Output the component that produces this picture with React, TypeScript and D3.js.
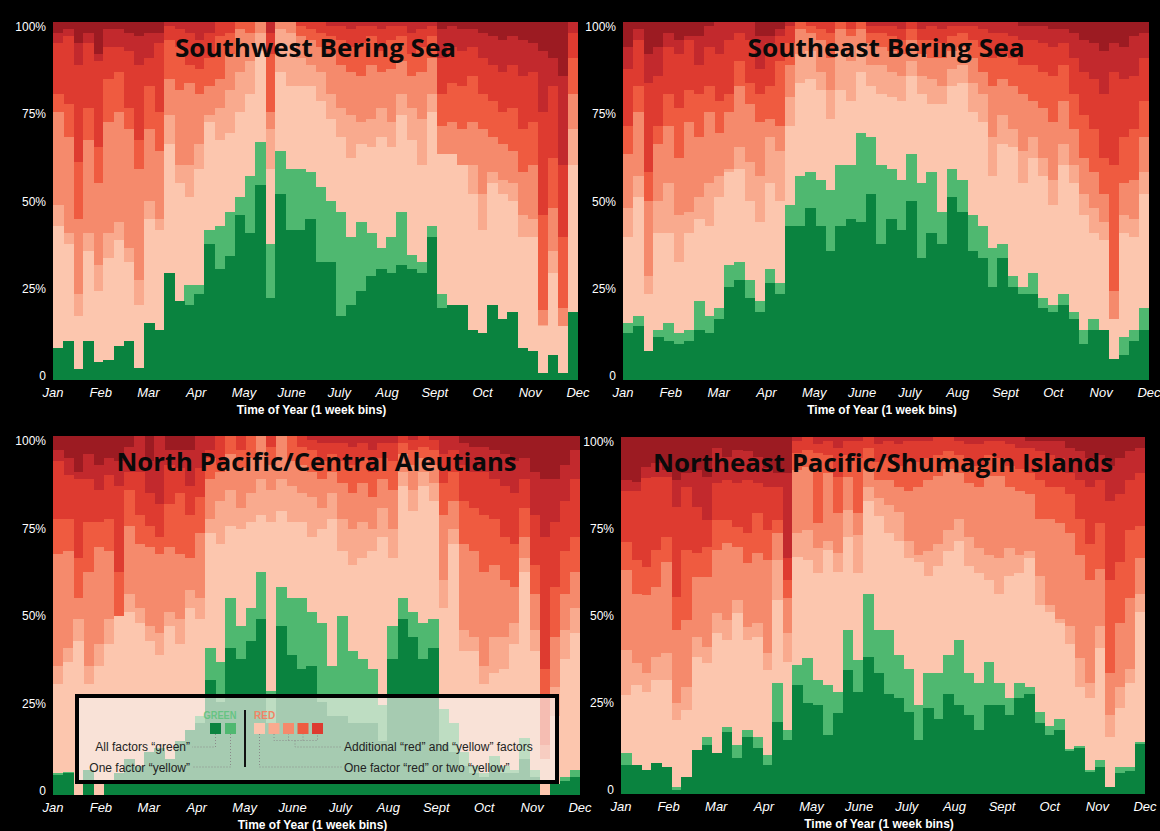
import React from 'react';
import * as d3 from 'd3';

const MONTHS = ['Jan', 'Feb', 'Mar', 'Apr', 'May', 'June', 'July', 'Aug', 'Sept', 'Oct', 'Nov', 'Dec'];
const Y_TICKS = [0, 25, 50, 75, 100];
const WEEKS = d3.range(52);

// cumulative % tops of each band, per week (green, yellow, then red bands 1..6; last band fills to 100)
// Southwest Bering Sea
const swGreen = [9, 11, 3, 11, 5, 5.6, 9.5, 11, 3.3, 16, 14, 30, 22, 21, 24, 38, 31, 34.5, 46, 41, 54.5, 23, 52, 42, 42, 45, 33, 33, 18, 21, 25, 29, 31, 30, 32, 31, 30, 40, 20, 21, 21, 14, 13, 21, 17, 19, 9, 8, 2, 7, 2, 19];
const swYellow = [9, 11, 3, 11, 5, 5.6, 9.5, 11, 3.3, 16, 14, 30, 22, 26.5, 26.5, 42, 43, 47, 51, 57, 66.6, 38, 64, 59, 59, 58, 54, 50, 47, 40, 44, 41, 37, 40, 47, 35, 33, 43, 24, 21, 21, 14, 13, 21, 17, 19, 9, 8, 2, 7, 2, 19];
const swRed1 = [43, 38, 18, 36, 25, 34, 39, 33, 21, 45, 42, 66, 55, 51, 59, 72, 67, 69, 75, 80, 92, 59, 86, 82, 82, 82, 78, 73, 68, 62, 66, 65, 68, 65, 74, 67, 60, 75, 63, 63, 60, 52, 42, 55, 52, 50, 40, 40, 15, 30, 15, 60];
const swRed2 = [49, 41, 24, 41, 32, 41, 44, 37, 28, 50, 45, 74, 60, 60, 66, 74, 76, 81, 86, 89, 97, 70, 98, 97, 90, 88, 86, 80, 76, 74, 72, 73, 76, 72, 80, 76, 73, 80, 63, 63, 60, 60, 52, 58, 56, 55, 46, 45, 15.4, 36, 15, 70];
const swRed3 = [75, 68, 45, 67, 55, 72, 75, 70, 59, 70, 64, 84, 81, 83, 80, 82, 84, 91, 98, 97, 100, 75, 100, 100, 96, 95, 93, 91, 88, 86, 85, 88, 86, 87, 89, 85, 86, 90, 71, 72, 70, 72, 70, 68, 66, 64, 58, 60, 19.5, 48, 20, 80];
const swRed4 = [80, 77, 61, 76, 65, 84, 86, 76, 67, 82, 75, 95, 93, 88, 87, 90, 96, 97, 100, 100, 100, 91, 100, 100, 99, 98, 97, 96, 95, 93, 94, 96, 92, 95, 96, 91, 93, 96, 80, 83, 82, 85, 80, 78, 75, 76, 70, 72, 46, 62, 40, 90];
const swRed5 = [94, 96, 88, 94, 89, 93, 93, 92, 88, 90, 94, 99, 98, 97, 95, 97, 100, 100, 100, 100, 100, 97, 100, 100, 100, 100, 100, 99, 99, 98, 99, 99, 98, 99, 99, 97, 98, 99, 90, 93, 92, 93, 90, 88, 86, 88, 85, 86, 75, 82, 60, 97];
const swRed6 = [97, 98, 94, 97, 91, 98, 98, 97, 96, 97, 97, 100, 100, 100, 100, 100, 100, 100, 100, 100, 100, 100, 100, 100, 100, 100, 100, 100, 100, 100, 100, 100, 100, 100, 100, 100, 100, 100, 98, 99, 98, 98, 97, 96, 95, 96, 95, 94, 92, 90, 85, 100];

// Southeast Bering Sea
const seGreen = [13, 15, 8, 12, 11, 10, 11, 14, 13, 17, 26, 28, 23, 19, 27, 24, 43, 43, 48, 43, 36, 43, 45, 44, 52, 38, 45, 42, 50, 34, 41, 38, 51, 47, 36, 34, 26, 34, 26, 24, 24, 20, 19, 21, 17, 10, 14, 14, 6, 7, 11, 14];
const seYellow = [16, 18, 8, 14, 16, 13, 14, 22, 18, 20, 32, 33, 28, 22, 31, 27, 49, 57, 58, 56, 53, 60, 60, 69, 68, 60, 59, 56, 63, 55, 58, 47, 59, 56, 46, 43, 37, 38, 29, 26, 30, 23, 21, 24, 19, 14, 17, 14, 6, 12, 14, 20];
const seRed1 = [40, 51, 24, 41, 41, 33, 41, 45, 43, 51, 58, 59, 50, 44, 55, 50, 71, 83, 84, 81, 73, 81, 78, 86, 82, 80, 79, 78, 85, 80, 77, 77, 82, 83, 75, 72, 57, 66, 65, 55, 62, 57, 49, 60, 55, 46, 41, 39, 17, 41, 40, 52];
const seRed2 = [48, 57, 29, 50, 55, 46, 47, 51, 55, 57, 59, 65, 61, 57, 68, 64, 79, 91, 92, 86, 81, 92, 89, 93, 88, 88, 86, 85, 89, 85, 84, 82, 87, 88, 83, 80, 68, 74, 70, 64, 68, 62, 56, 66, 60, 52, 48, 44, 17, 46, 45, 58];
const seRed3 = [63, 75, 50, 66, 71, 62, 72, 68, 75, 69, 75, 82, 77, 72, 73, 71, 88, 98, 97, 95, 90, 98, 96, 98, 94, 93, 92, 91, 95, 91, 90, 90, 92, 93, 90, 86, 82, 84, 82, 80, 78, 76, 72, 78, 70, 62, 58, 52, 25, 55, 56, 68];
const seRed4 = [71, 82, 58, 71, 80, 76, 81, 80, 82, 78, 80, 89, 83, 80, 82, 89, 94, 100, 99, 98, 97, 100, 98, 100, 97, 97, 96, 95, 98, 95, 95, 94, 96, 97, 95, 93, 90, 91, 90, 88, 88, 86, 85, 88, 80, 74, 70, 62, 60, 68, 70, 78];
const seRed5 = [87, 95, 83, 85, 93, 91, 95, 88, 93, 91, 95, 97, 95, 87, 94, 96, 99, 100, 100, 100, 100, 100, 100, 100, 99, 99, 99, 98, 100, 98, 99, 98, 99, 99, 99, 98, 97, 97, 96, 95, 95, 94, 93, 94, 90, 86, 84, 80, 86, 84, 85, 90];
const seRed6 = [93, 98, 91, 93, 97, 95, 96, 96, 99, 100, 100, 100, 100, 96, 96, 98, 100, 100, 100, 100, 100, 100, 100, 100, 100, 100, 100, 100, 100, 100, 100, 100, 100, 100, 100, 100, 100, 100, 100, 99, 99, 99, 98, 98, 97, 95, 94, 92, 94, 93, 96, 97];

// North Pacific/Central Aleutians
const npGreen = [5.6, 6, 0, 7, 0, 4, 6, 10, 8, 12, 13, 10, 15, 18, 20, 32, 26, 41, 38, 43, 49, 20, 47, 39, 35, 36, 26, 22, 22, 20, 20, 20, 15, 38, 49, 44, 38, 41, 14, 12, 8, 6, 5, 8, 6, 6, 10, 5, 0, 3, 4, 5];
const npYellow = [6, 6.5, 0, 7, 0, 4, 6, 10, 8, 12, 13, 10, 15, 18, 22, 41, 37, 55, 47, 52, 62, 29, 58, 55, 55, 51, 48, 36, 50, 40, 38, 35, 25, 47, 55, 51, 48, 49, 24, 20, 12, 8, 6, 11, 8, 7, 16, 7, 0, 3, 5, 7];
const npRed1 = [31, 37, 43, 31, 36, 42, 50, 51, 48, 43, 39, 47, 42, 52, 49, 73, 70, 75, 74, 76, 78, 76, 79, 76, 76, 72, 74, 77, 68, 64, 66, 68, 72, 66, 86, 79, 86, 82, 52, 70, 40, 40, 31, 34, 35, 42, 62, 40, 10, 22, 38, 45];
const npRed2 = [36, 41, 49, 36, 42, 49, 50, 56, 52, 47, 45, 51, 49, 57, 55, 77, 82, 85, 80, 84, 88, 85, 88, 86, 84, 83, 80, 84, 77, 74, 76, 74, 80, 74, 90, 85, 90, 87, 60, 74, 46, 44, 36, 44, 44, 48, 66, 46, 10, 30, 46, 52];
const npRed3 = [67, 68, 55, 62, 69, 68, 50, 75, 70, 69, 67, 69, 67, 66, 73, 88, 90, 95, 91, 94, 100, 92, 100, 93, 92, 90, 88, 90, 87, 84, 87, 83, 88, 85, 95, 92, 94, 92, 78, 82, 70, 68, 62, 64, 60, 58, 72, 56, 14, 44, 56, 62];
const npRed4 = [77, 77, 66, 76, 76, 77, 62, 85, 78, 75, 72, 81, 84, 78, 83, 94, 92, 100, 96, 100, 100, 97, 100, 100, 97, 96, 93, 95, 93, 92, 94, 90, 94, 93, 98, 96, 97, 96, 87, 90, 82, 80, 78, 77, 72, 70, 80, 64, 35, 58, 68, 72];
const npRed5 = [93, 89, 88, 88, 85, 89, 86, 90, 90, 84, 81, 92, 91, 86, 91, 96, 100, 100, 100, 100, 100, 100, 100, 100, 100, 99, 98, 98, 98, 97, 98, 96, 98, 98, 100, 99, 100, 99, 95, 96, 92, 90, 90, 88, 86, 84, 88, 78, 72, 76, 82, 88];
const npRed6 = [96, 94, 90, 95, 92, 94, 93, 97, 100, 93, 100, 96, 96, 96, 100, 100, 100, 100, 100, 100, 100, 100, 100, 100, 100, 100, 100, 100, 100, 100, 100, 100, 100, 100, 100, 100, 100, 100, 100, 100, 98, 97, 97, 96, 95, 93, 94, 90, 88, 88, 92, 96];

// Northeast Pacific/Shumagin Islands
const neGreen = [8, 8, 6.7, 8.6, 7.7, 1.1, 4.9, 12.3, 13.7, 11.4, 17.5, 10, 16, 12.8, 8.1, 20.3, 15, 30.5, 25.4, 25, 16.5, 22.6, 34.7, 28.7, 38.5, 34, 28, 27, 23, 15, 24, 21, 28, 25, 22, 18, 25, 25, 22, 27, 28, 20, 16.5, 18, 12, 13, 6.3, 7.7, 2, 5.8, 6.5, 14];
const neYellow = [11.4, 8, 6.7, 8.6, 7.7, 2, 4.9, 12.3, 16, 11.4, 18.9, 13.7, 17.9, 16, 11, 31, 18, 36, 38, 32, 30.5, 28.7, 46, 37.5, 56, 46, 46, 39, 35, 25, 34, 34, 39, 43, 34, 31, 37, 31, 27, 31, 30, 23, 19, 21, 12.5, 13.5, 6.7, 9.5, 2, 7.7, 7.7, 14.7];
const neRed1 = [27.7, 30.5, 28.7, 32, 32, 20.7, 23.5, 38.5, 36.6, 45, 43, 50.6, 43, 44, 34.7, 54.3, 37, 66.5, 65.5, 61.8, 68.3, 62.3, 72, 61.8, 82, 78, 73, 71, 66, 65, 61, 64, 68, 71, 64, 62, 60, 56, 61, 62, 66, 53, 51, 48, 42, 30, 27, 41, 16, 24, 31, 51];
const neRed2 = [40.3, 36.6, 33.8, 38.5, 39.4, 25.4, 30, 44, 41.3, 50.6, 48.7, 54.3, 46.9, 47.8, 39.4, 65.5, 45, 73, 74, 68.8, 71, 67.4, 79.6, 72.5, 86, 83, 81, 79, 71, 67, 68, 70, 74, 77, 72, 69, 67, 66, 69, 67, 68, 61, 53, 49, 47, 38, 31, 47, 22, 30, 35, 56];
const neRed3 = [62.7, 56, 55.7, 58, 65, 46, 48.7, 60.9, 60.9, 68.3, 70.2, 69.3, 64.6, 67.4, 65.5, 73, 55, 90.8, 91.7, 75.8, 90, 78.6, 88.9, 78.6, 91, 88, 88, 86, 85, 86, 88, 89, 91, 90, 87, 86, 89, 89, 86, 85, 84, 77, 77, 76, 73, 67, 60, 63, 34, 48, 55, 66];
const neRed4 = [70.7, 65.5, 63.7, 68.3, 72, 55.3, 68.3, 67.4, 69.3, 76.7, 76.7, 74.9, 73, 78.6, 74, 76.7, 60, 95.4, 96.4, 95.4, 95, 88.9, 95, 94, 97, 93, 94, 92, 93, 93, 94, 95, 96, 95, 93, 92, 95, 94, 92, 91, 90, 88, 86, 86, 84, 77, 70, 76, 60, 65, 74, 75];
const neRed5 = [85, 85, 88.4, 88.9, 88.9, 80.5, 86, 80.5, 76.7, 87, 88, 87, 88, 87, 86, 86, 66, 99, 100, 98, 99, 97, 99, 99, 100, 98, 99, 98, 99, 99, 99, 100, 100, 99, 98, 98, 99, 99, 98, 97, 97, 96, 95, 94, 90, 88, 86, 88, 82, 84, 88, 90];
const neRed6 = [88, 87.5, 91.7, 92.6, 90.7, 88, 89.8, 90.7, 88.9, 96.8, 94.5, 96.4, 96, 94.5, 91.2, 89.8, 90, 100, 100, 100, 100, 100, 100, 100, 100, 100, 100, 100, 100, 100, 100, 100, 100, 100, 100, 100, 100, 100, 100, 100, 99, 99, 99, 99, 97, 96, 94, 95, 92, 94, 96, 97];

const BAND_COLORS = ['#0a833f', '#4fb870', '#fcc6ae', '#f9aa8e', '#f58a6c', '#ef5b40', '#de3b30', '#c2292d', '#9c1b22'];

type PanelSpec = {
  title: string;
  titleWidth: number;
  bands: number[][];
  x0: number;
  x1: number;
  top: number;
  bottom: number;
};

const PANELS: PanelSpec[] = [
  { title: 'Southwest Bering Sea', titleWidth: 281, bands: [swGreen, swYellow, swRed1, swRed2, swRed3, swRed4, swRed5, swRed6], x0: 53, x1: 578, top: 22, bottom: 380 },
  { title: 'Southeast Bering Sea', titleWidth: 277, bands: [seGreen, seYellow, seRed1, seRed2, seRed3, seRed4, seRed5, seRed6], x0: 623, x1: 1149, top: 22, bottom: 380 },
  { title: 'North Pacific/Central Aleutians', titleWidth: 400, bands: [npGreen, npYellow, npRed1, npRed2, npRed3, npRed4, npRed5, npRed6], x0: 53, x1: 580, top: 436, bottom: 795 },
  { title: 'Northeast Pacific/Shumagin Islands', titleWidth: 460, bands: [neGreen, neYellow, neRed1, neRed2, neRed3, neRed4, neRed5, neRed6], x0: 621, x1: 1145, top: 437, bottom: 794 },
];

const sans = 'Liberation Sans, Arial, Helvetica, sans-serif';

function Panel({ spec }: { spec: PanelSpec }) {
  const x = d3.scaleBand<number>().domain(WEEKS).range([spec.x0, spec.x1]);
  const y = d3.scaleLinear().domain([0, 100]).range([spec.bottom, spec.top]);
  const yLabel = d3.scaleLinear().domain([0, 100]).range([spec.bottom - 4, spec.top + 5]);
  const months = d3.scalePoint<string>().domain(MONTHS).range([spec.x0, spec.x1]);

  // running max so each band top sits above the previous one
  const tops: number[][] = [];
  [...spec.bands, WEEKS.map(() => 100)].forEach((arr, k) => {
    tops.push(WEEKS.map((i) => Math.max(arr[i], k > 0 ? tops[k - 1][i] : 0)));
  });

  const bw = x.bandwidth();
  const cx = (spec.x0 + spec.x1) / 2;

  return (
    <g>
      {tops
        .map((arr, k) => ({ arr, k }))
        .reverse()
        .map(({ arr, k }) => (
          <g key={k} fill={BAND_COLORS[k]}>
            {WEEKS.map((i) =>
              arr[i] > 0 ? (
                <rect
                  key={i}
                  x={x(i)}
                  y={y(arr[i])}
                  width={i === 51 ? bw : bw + 0.6}
                  height={y(0) - y(arr[i])}
                  shapeRendering="crispEdges"
                />
              ) : null
            )}
          </g>
        ))}
      <text
        x={cx}
        y={spec.top + 35}
        textAnchor="middle"
        fontFamily="Open Sans, Noto Sans, sans-serif"
        fontWeight={700}
        fontSize={25}
        fill="#0a0a0a"
        textLength={spec.titleWidth}
        lengthAdjust="spacingAndGlyphs"
      >
        {spec.title}
      </text>
      {Y_TICKS.map((t) => (
        <text key={t} x={spec.x0 - 7} y={yLabel(t)} dy="0.35em" textAnchor="end" fill="#fff" fontFamily={sans} fontSize={12}>
          {t === 0 ? '0' : `${t}%`}
        </text>
      ))}
      {MONTHS.map((m) => (
        <text key={m} x={months(m)} y={spec.bottom + 17} textAnchor="middle" fill="#fff" fontFamily={sans} fontStyle="italic" fontSize={13}>
          {m}
        </text>
      ))}
      <text x={cx - 4} y={spec.bottom + 34} textAnchor="middle" fill="#fff" fontFamily={sans} fontWeight={700} fontSize={12}>
        Time of Year (1 week bins)
      </text>
    </g>
  );
}

const LEGEND_GREEN = [BAND_COLORS[0], BAND_COLORS[1]];
const LEGEND_RED = [BAND_COLORS[2], BAND_COLORS[3], BAND_COLORS[4], BAND_COLORS[5], BAND_COLORS[6]];

function Legend() {
  const dot = { stroke: '#8a8a8a', strokeWidth: 1, strokeDasharray: '1 2', fill: 'none' };
  const txt = { fontFamily: sans, fontSize: 12, fill: '#222' };
  return (
    <g>
      <rect x={77} y={696} width={480} height={86} fill="#f7f0ed" fillOpacity={0.66} stroke="#000" strokeWidth={4} />
      <text x={220} y={719} textAnchor="middle" fontFamily={sans} fontWeight={700} fontSize={10} fill="#66c483" textLength={33} lengthAdjust="spacingAndGlyphs">
        GREEN
      </text>
      <text x={254} y={719} fontFamily={sans} fontWeight={700} fontSize={10} fill="#f28466">
        RED
      </text>
      <line x1={245} x2={245} y1={710} y2={767} stroke="#111" strokeWidth={2} />
      {LEGEND_GREEN.map((c, i) => (
        <rect key={c} x={210 + i * 15} y={723} width={11} height={11} fill={c} />
      ))}
      {LEGEND_RED.map((c, i) => (
        <rect key={c} x={254 + i * 14.5} y={723} width={11} height={11} fill={c} />
      ))}
      <path d="M215.5,734 V747 H192" {...dot} />
      <path d="M230.5,734 V767 H192" {...dot} />
      <path d="M259.5,734 V767 H342" {...dot} />
      <path d="M274,734 V740.5 H317.5 V734 M288.5,740.5 V734 M303,740.5 V734 M295,740.5 V747 H342" {...dot} />
      <text x={190} y={751} textAnchor="end" {...txt}>All factors “green”</text>
      <text x={190} y={772} textAnchor="end" {...txt}>One factor “yellow”</text>
      <text x={344} y={751} {...txt}>Additional “red” and “yellow” factors</text>
      <text x={344} y={772} {...txt}>One factor “red” or two “yellow”</text>
    </g>
  );
}

export default function App() {
  return (
    <svg width={1160} height={831} style={{ position: 'absolute', left: 0, top: 0, display: 'block' }}>
      <rect x={0} y={0} width={1160} height={831} fill="#000" />
      {PANELS.map((p) => (
        <Panel key={p.title} spec={p} />
      ))}
      <Legend />
    </svg>
  );
}
